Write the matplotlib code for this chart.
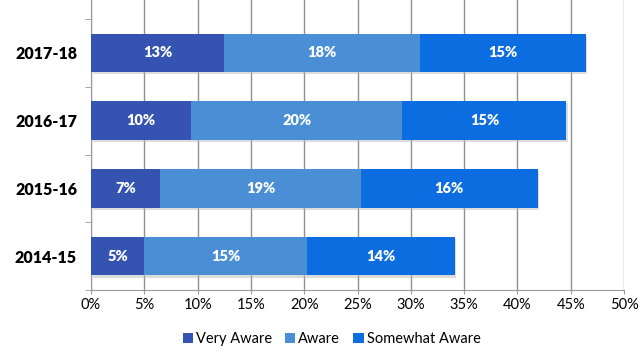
import numpy as np
import matplotlib.pyplot as plt

years = ["2014-15", "2015-16", "2016-17", "2017-18"]
very_aware = [5.0, 6.5, 9.4, 12.5]
aware = [15.3, 18.8, 19.8, 18.4]
somewhat = [13.8, 16.6, 15.4, 15.5]
very_lbl = ["5%", "7%", "10%", "13%"]
aware_lbl = ["15%", "19%", "20%", "18%"]
somewhat_lbl = ["14%", "16%", "15%", "15%"]
series = ["Very Aware", "Aware", "Somewhat Aware"]
colors = ["#3553b0", "#4a8fd6", "#0b6de0"]

plt.rcParams['font.family'] = ['Lato', 'DejaVu Sans']

fig = plt.figure(figsize=(6.44, 3.63), dpi=100)
ax = fig.add_axes([0.1413, 0.201, 0.8277, 0.799])

y = np.arange(len(years))
h = 0.57
left = np.zeros(len(years))
for vals, lbls, col, name in zip([very_aware, aware, somewhat],
                                 [very_lbl, aware_lbl, somewhat_lbl],
                                 colors, series):
    # faint shadow under each bar
    ax.barh(y - 0.03, vals, height=h, left=left + 0.15, color="#bbbbbb",
            alpha=0.5, zorder=2)
    bars = ax.barh(y, vals, height=h, left=left, color=col, label=name, zorder=3)
    for b, t in zip(bars, lbls):
        ax.text(b.get_x() + b.get_width() / 2, b.get_y() + b.get_height() / 2, t,
                ha="center", va="center", color="white", fontsize=10.5,
                fontweight="heavy", zorder=4)
    left = left + np.array(vals)

ax.set_xlim(0, 50)
ax.set_ylim(-0.5, 3.78)
ax.set_xticks(np.arange(0, 51, 5))
ax.set_xticklabels([f"{v}%" for v in range(0, 51, 5)], fontsize=10.5)
ax.set_yticks(y)
ax.set_yticklabels(years, fontsize=11.5, fontweight="heavy")
ax.set_yticks(np.arange(-0.5, 3.6, 1), minor=True)
ax.tick_params(axis="y", which="major", length=0, pad=10)
ax.tick_params(axis="y", which="minor", length=4, color="#999999")
ax.tick_params(axis="x", length=3, color="#999999", pad=3)
ax.grid(axis="x", color="#8f8f8f", linewidth=1, zorder=0)
ax.set_axisbelow(True)
for s in ["top", "right"]:
    ax.spines[s].set_visible(False)
for s in ["left", "bottom"]:
    ax.spines[s].set_color("#999999")

handles, labels = ax.get_legend_handles_labels()
fig.legend(handles, labels, loc="lower center", bbox_to_anchor=(0.515, 0.01),
           ncol=3, frameon=False, fontsize=10.5, handlelength=0.7,
           handleheight=0.7, handletextpad=0.2, columnspacing=0.9)

fig.savefig("out.png", dpi=100)
